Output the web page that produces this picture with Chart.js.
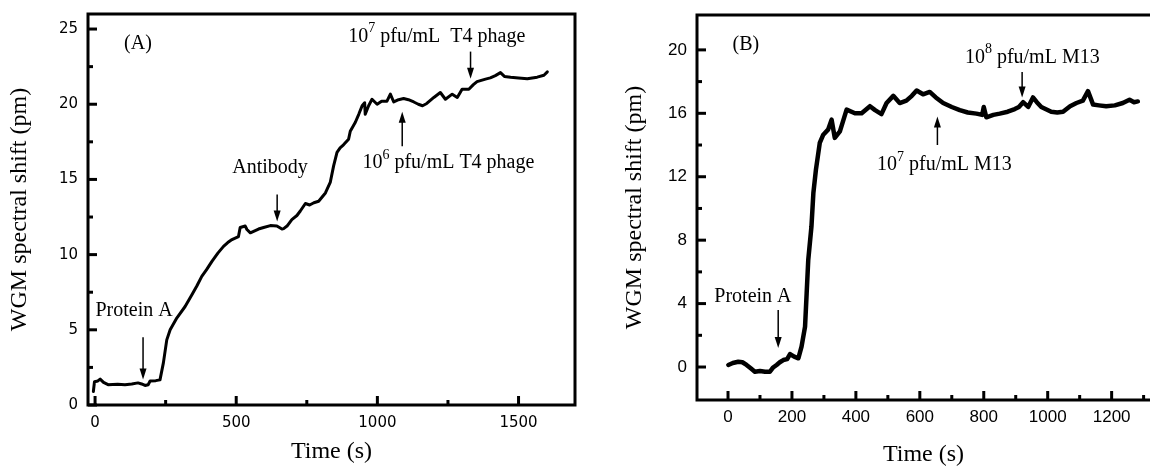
<!DOCTYPE html>
<html>
<head>
<meta charset="utf-8">
<script src="https://cdn.jsdelivr.net/npm/chart.js@4.4.1/dist/chart.umd.min.js"></script>
<style>
    html, body { margin: 0; padding: 0; background: #fff; }
    .wrap { position: relative; width: 1150px; height: 467px; overflow: hidden; }
    #chartA { position: absolute; left: 0; top: 0; }
    #chartB { position: absolute; left: 590px; top: 0; }
</style>
</head>
<body>
<div class="wrap">
    <canvas id="chartA" width="590" height="467"></canvas>
    <canvas id="chartB" width="560" height="467"></canvas>
</div>
<script>
(function () {
    "use strict";

    // Panel (A) - protein A, antibody, T4 phage
    const timeA = [
        -6, -2, 10, 18, 30, 46, 80, 106, 130, 152, 165, 177, 188, 195, 215,
        230, 242, 254, 266, 290, 319, 343, 360, 378, 395, 414, 435, 455, 470,
        485, 508, 514, 532, 538, 550, 579, 597, 621, 644, 662, 668, 680, 697,
        715, 727, 745, 760, 775, 792, 816, 833, 845, 857, 868, 880, 898, 904,
        922, 934, 946, 955, 957, 969, 981, 999, 1015, 1034, 1046, 1058, 1075,
        1093, 1110, 1129, 1145, 1160, 1175, 1200, 1223, 1241, 1265, 1283,
        1300, 1324, 1340, 1353, 1383, 1400, 1418, 1436, 1450, 1472, 1500,
        1531, 1566, 1590, 1602,
    ];
    const shiftA = [
        0.9, 1.55, 1.6, 1.72, 1.5, 1.35, 1.38, 1.35, 1.4, 1.47, 1.4, 1.3, 1.35,
        1.6, 1.62, 1.67, 2.8, 4.33, 5.0, 5.8, 6.55, 7.33, 7.9, 8.55, 9.0, 9.55,
        10.1, 10.55, 10.8, 11.0, 11.2, 11.8, 11.9, 11.67, 11.45, 11.7, 11.8,
        11.93, 11.9, 11.7, 11.73, 11.9, 12.33, 12.6, 12.9, 13.4, 13.3, 13.45,
        13.55, 14.1, 14.8, 15.9, 16.8, 17.1, 17.3, 17.67, 18.2, 18.8, 19.33,
        19.9, 20.1, 19.33, 19.9, 20.33, 20.0, 20.2, 20.2, 20.67, 20.15, 20.3,
        20.38, 20.3, 20.15, 20.0, 19.9, 20.05, 20.45, 20.78, 20.33, 20.67,
        20.45, 21.0, 21.0, 21.3, 21.5, 21.67, 21.75, 21.9, 22.1, 21.85, 21.8,
        21.75, 21.7, 21.8, 21.93, 22.15,
    ];
    const xTicksA = [0, 500, 1000, 1500];
    const xMinorA = [250, 750, 1250];
    const yTicksA = [0, 5, 10, 15, 20, 25];
    const yMinorA = [2.5, 7.5, 12.5, 17.5, 22.5];

    // Panel (B) - protein A, M13
    const timeB = [
        1, 15, 32, 45, 58, 72, 84, 100, 116, 131, 140, 152, 162, 173, 185,
        194, 207, 220, 230, 241, 246, 251, 261, 267, 275, 287, 298, 313, 324,
        334, 350, 371, 397, 418, 444, 460, 480, 496, 517, 537, 558, 575, 590,
        610, 631, 650, 673, 700, 725, 750, 777, 795, 800, 808, 830, 850, 875,
        897, 910, 923, 939, 954, 966, 980, 1011, 1030, 1048, 1070, 1090, 1110,
        1126, 1142, 1160, 1183, 1210, 1235, 1256, 1270, 1282,
    ];
    const shiftB = [
        0.13, 0.25, 0.33, 0.3, 0.13, -0.1, -0.3, -0.25, -0.3, -0.3, -0.05,
        0.13, 0.3, 0.44, 0.5, 0.82, 0.65, 0.55, 1.28, 2.55, 4.65, 6.75, 8.86,
        10.97, 12.44, 14.13, 14.65, 14.97, 15.6, 14.45, 14.86, 16.23, 16.0,
        16.0, 16.45, 16.2, 15.95, 16.65, 17.1, 16.65, 16.8, 17.1, 17.44, 17.2,
        17.35, 17.0, 16.65, 16.4, 16.2, 16.05, 15.98, 15.9, 16.4, 15.75, 15.9,
        15.98, 16.1, 16.27, 16.4, 16.7, 16.4, 17.0, 16.7, 16.4, 16.1, 16.05,
        16.1, 16.45, 16.65, 16.8, 17.4, 16.55, 16.5, 16.44, 16.5, 16.65,
        16.86, 16.7, 16.75,
    ];
    const xTicksB = [0, 200, 400, 600, 800, 1000, 1200];
    const xMinorB = [100, 300, 500, 700, 900, 1100, 1300];
    const yTicksB = [0, 4, 8, 12, 16, 20];
    const yMinorB = [2, 6, 10, 14, 18];

    // Labels and arrows, in data units ("^" marks a one-digit superscript)
    const notesA = [
        { text: "(A)", x: 152, y: 24, align: "center" },
        { text: "Protein A", x: 138, y: 6.3, align: "center" },
        { text: "Antibody", x: 620, y: 15.8, align: "center" },
        { text: "10^6 pfu/mL T4 phage", x: 947, y: 16.1, align: "left" },
        { text: "10^7 pfu/mL  T4 phage", x: 897, y: 24.5, align: "left" },
    ];
    const arrowsA = [
        { x: 170, from: 4.5, to: 1.7 },
        { x: 645, from: 14.0, to: 12.2 },
        { x: 1088, from: 17.2, to: 19.5 },
        { x: 1330, from: 23.5, to: 21.7 },
    ];
    const notesB = [
        { text: "(B)", x: 56, y: 20.3, align: "center" },
        { text: "Protein A", x: 78, y: 4.4, align: "center" },
        { text: "10^7 pfu/mL M13", x: 466, y: 12.75, align: "left" },
        { text: "10^8 pfu/mL M13", x: 741, y: 19.5, align: "left" },
    ];
    const arrowsB = [
        { x: 157, from: 3.6, to: 1.2 },
        { x: 655, from: 14.0, to: 15.8 },
        { x: 920, from: 18.6, to: 17.0 },
    ];

    const serif = '"Liberation Serif", "Times New Roman", serif';

    function drawNote(ctx, note, px, py) {
        const parts = note.text.split(/\^(\d)/);
        const fonts = parts.map((p, i) => (i % 2 ? "14px " : "20px ") + serif);
        let total = 0;
        parts.forEach((p, i) => {
            ctx.font = fonts[i];
            total += ctx.measureText(p).width;
        });
        let cx = note.align === "center" ? px - total / 2 : px;
        ctx.textAlign = "left";
        ctx.textBaseline = "middle";
        parts.forEach((p, i) => {
            ctx.font = fonts[i];
            ctx.fillText(p, cx, i % 2 ? py - 8 : py);
            cx += ctx.measureText(p).width;
        });
    }

    function drawArrow(ctx, px, y1, y2) {
        const dir = Math.sign(y2 - y1);
        ctx.lineWidth = 1.5;
        ctx.beginPath();
        ctx.moveTo(px, y1);
        ctx.lineTo(px, y2 - dir * 8);
        ctx.stroke();
        ctx.beginPath();
        ctx.moveTo(px, y2);
        ctx.lineTo(px - 3.5, y2 - dir * 11);
        ctx.lineTo(px + 3.5, y2 - dir * 11);
        ctx.closePath();
        ctx.fill();
    }

    // Box frame, inward tick marks and the annotations
    const framePlugin = {
        id: "frameTicks",
        afterDraw(chart, args, opts) {
            const { ctx, chartArea: a } = chart;
            const x = chart.scales.x;
            const y = chart.scales.y;
            ctx.save();
            ctx.strokeStyle = "#000";
            ctx.fillStyle = "#000";
            ctx.lineWidth = 3;
            ctx.lineCap = "square";
            ctx.beginPath();
            if (opts.openRight) {
                ctx.moveTo(a.right + 5, a.top);
                ctx.lineTo(a.left, a.top);
                ctx.lineTo(a.left, a.bottom);
                ctx.lineTo(a.right + 5, a.bottom);
            } else {
                ctx.rect(a.left, a.top, a.right - a.left, a.bottom - a.top);
            }
            ctx.stroke();

            ctx.lineCap = "butt";
            const xMarks = (vals, len) => vals.forEach((v) => {
                const px = x.getPixelForValue(v);
                ctx.beginPath();
                ctx.moveTo(px, a.bottom);
                ctx.lineTo(px, a.bottom - len);
                ctx.stroke();
            });
            const yMarks = (vals, len) => vals.forEach((v) => {
                const py = y.getPixelForValue(v);
                ctx.beginPath();
                ctx.moveTo(a.left, py);
                ctx.lineTo(a.left + len, py);
                ctx.stroke();
            });
            xMarks(opts.xMajor, 9);
            xMarks(opts.xMinor, 5);
            yMarks(opts.yMajor, 9);
            yMarks(opts.yMinor, 5);

            opts.notes.forEach((n) => {
                drawNote(ctx, n, x.getPixelForValue(n.x), y.getPixelForValue(n.y));
            });
            opts.arrows.forEach((r) => {
                drawArrow(ctx, x.getPixelForValue(r.x),
                    y.getPixelForValue(r.from), y.getPixelForValue(r.to));
            });
            ctx.restore();
        },
    };

    function makeChart(id, p) {
        const ctx = document.getElementById(id).getContext("2d");
        return new Chart(ctx, {
            type: "line",
            data: {
                datasets: [
                    {
                        data: p.time.map((t, i) => ({ x: t, y: p.shift[i] })),
                        borderColor: "#000",
                        borderWidth: p.lineWidth,
                        borderJoinStyle: "round",
                        borderCapStyle: "round",
                        pointRadius: 0,
                        tension: 0,
                        fill: false,
                    },
                ],
            },
            options: {
                responsive: false,
                animation: false,
                devicePixelRatio: 1,
                layout: { padding: p.padding },
                plugins: {
                    legend: { display: false },
                    tooltip: { enabled: false },
                    frameTicks: p.frame,
                },
                scales: {
                    x: {
                        type: "linear",
                        min: p.xMin,
                        max: p.xMax,
                        grid: { display: false, drawTicks: false },
                        border: { display: false },
                        ticks: {
                            color: "#000",
                            font: p.tickFont,
                            padding: p.xTickPad,
                            maxRotation: 0,
                            autoSkip: false,
                            callback: (v) => String(v),
                        },
                        afterBuildTicks: (s) => {
                            s.ticks = p.frame.xMajor.map((v) => ({ value: v }));
                        },
                        afterFit: (s) => {
                            s.height = p.xAxisHeight;
                            s.paddingLeft = 0;
                            s.paddingRight = 0;
                        },
                        title: {
                            display: true,
                            text: "Time (s)",
                            color: "#000",
                            font: { family: serif, size: 24, lineHeight: 1 },
                            padding: { top: 0, bottom: p.xTitlePad },
                        },
                    },
                    y: {
                        min: p.yMin,
                        max: p.yMax,
                        grid: { display: false, drawTicks: false },
                        border: { display: false },
                        ticks: {
                            color: "#000",
                            font: p.tickFont,
                            padding: 10,
                            callback: (v) => String(v),
                        },
                        afterBuildTicks: (s) => {
                            s.ticks = p.frame.yMajor.map((v) => ({ value: v }));
                        },
                        afterFit: (s) => {
                            s.width = p.yAxisWidth;
                            s.paddingTop = 0;
                            s.paddingBottom = 0;
                        },
                        title: {
                            display: true,
                            text: "WGM spectral shift (pm)",
                            color: "#000",
                            font: { family: serif, size: 24, lineHeight: 1 },
                            padding: { top: p.yTitlePad, bottom: 0 },
                        },
                    },
                },
            },
            plugins: [framePlugin],
        });
    }

    makeChart("chartA", {
        time: timeA,
        shift: shiftA,
        lineWidth: 3,
        xMin: -25,
        xMax: 1700,
        yMin: 0,
        yMax: 26,
        padding: { top: 14, right: 15, bottom: 0, left: 0 },
        yAxisWidth: 88,
        xAxisHeight: 62,
        xTickPad: 9,
        xTitlePad: 3,
        yTitlePad: 8,
        tickFont: { family: '"DejaVu Sans", sans-serif', size: 15 },
        frame: {
            xMajor: xTicksA, xMinor: xMinorA,
            yMajor: yTicksA, yMinor: yMinorA,
            notes: notesA, arrows: arrowsA,
            openRight: false,
        },
    });

    makeChart("chartB", {
        time: timeB,
        shift: shiftB,
        lineWidth: 4.5,
        xMin: -97,
        xMax: 1320,
        yMin: -2.08,
        yMax: 22.2,
        padding: { top: 15, right: 0, bottom: 0, left: 0 },
        yAxisWidth: 107,
        xAxisHeight: 67,
        xTickPad: 7,
        xTitlePad: 0,
        yTitlePad: 33,
        tickFont: { family: '"Liberation Sans", Arial, sans-serif', size: 17 },
        frame: {
            xMajor: xTicksB, xMinor: xMinorB,
            yMajor: yTicksB, yMinor: yMinorB,
            notes: notesB, arrows: arrowsB,
            openRight: true,
        },
    });
})();
</script>
</body>
</html>
